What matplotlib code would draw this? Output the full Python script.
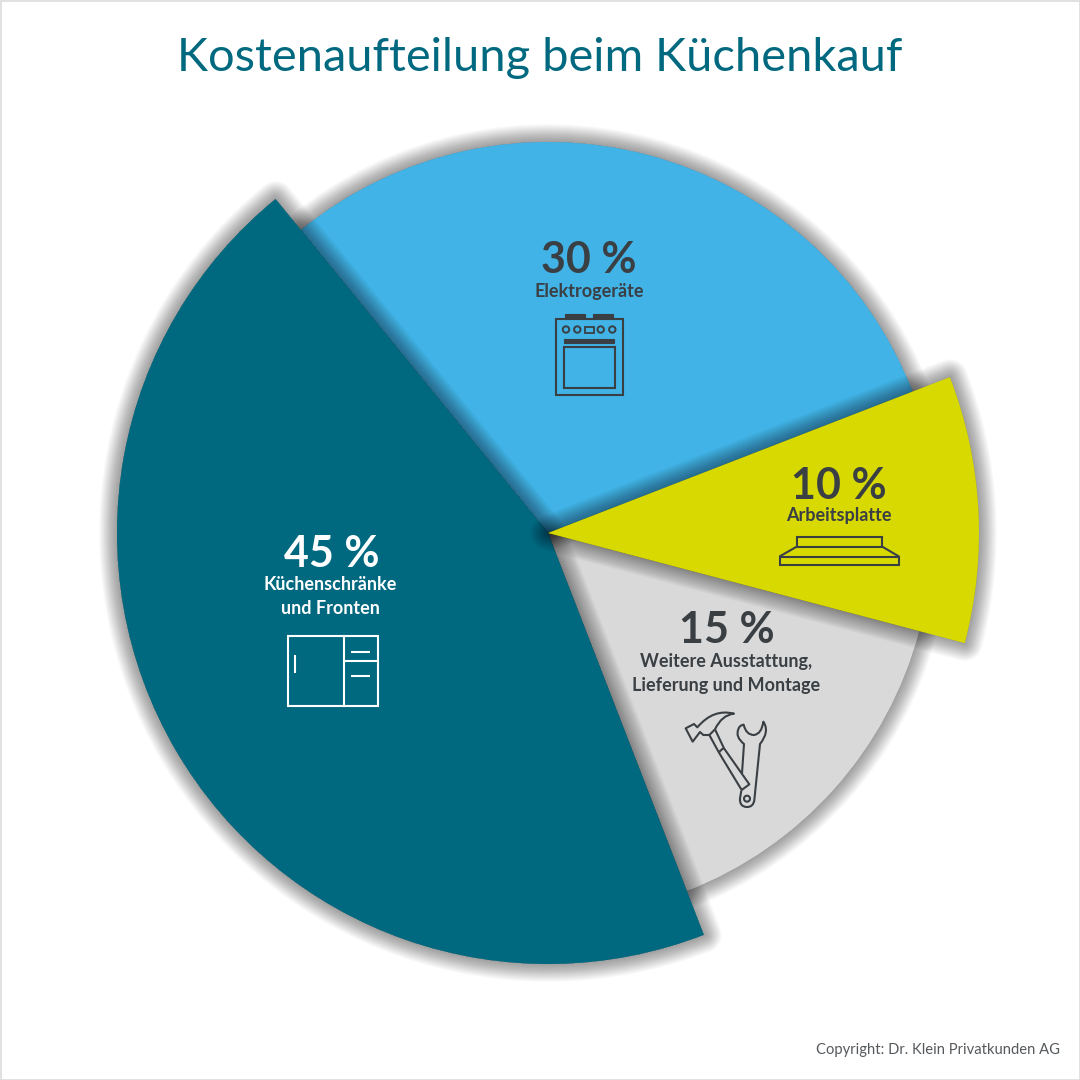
import matplotlib
matplotlib.use("Agg")
import matplotlib.pyplot as plt
import matplotlib.patheffects as pe
from matplotlib.patches import Rectangle, Circle, PathPatch
from matplotlib.path import Path

# ---- data ----
categories = ["Küchenschränke\nund Fronten", "Weitere Ausstattung,\nLieferung und Montage", "Arbeitsplatte", "Elektrogeräte"]
shares = [45, 15, 10, 30]
share_labels = ["45 %", "15 %", "10 %", "30 %"]

# ---- style ----
colors = ["#00697F", "#D9D9D9", "#D7D900", "#41B3E6"]
text_colors = ["#FFFFFF", "#3A3F44", "#3A3F44", "#3A3F44"]
radii_px = [431, 384, 431, 391]
zorders = [3, 1, 4, 1]
big_xy = [(332, 554), (727, 630), (839, 486), (589, 260)]
small_xy = [(330, 596), (726, 673), (839, 515), (589, 291)]
CX, CY = 548, 533
DARK = "#3A3F44"
FONT = ["Lato", "DejaVu Sans"]

fig = plt.figure(figsize=(10.8, 10.8), dpi=100, facecolor="white")
ax = fig.add_axes([0, 0, 1, 1])
wedges, _ = ax.pie(shares, colors=colors, startangle=129.2, center=(CX, 1080 - CY), radius=400)
ax.set_xlim(0, 1080)
ax.set_ylim(0, 1080)
ax.axis("off")


def shadow_effects(max_px=18, n=26, layer_alpha=0.017):
    fx = []
    for i in range(n, 0, -1):
        w = max_px * 2 * i / n * 0.72
        fx.append(pe.Stroke(linewidth=w, foreground="black", alpha=layer_alpha, joinstyle="round"))
    fx.append(pe.Normal())
    return fx


for w, r, z in zip(wedges, radii_px, zorders):
    w.set_radius(r)
    w.set_zorder(z)
    w.set_linewidth(0)
    w.set_edgecolor(w.get_facecolor())
    w.set_path_effects(shadow_effects())

# frame
ax.add_patch(Rectangle((0.5, 0.5), 1079, 1079, fill=False, ec="#DCDCDC", lw=1.2, zorder=0))


def P(x, y):
    return (x, 1080 - y)


# ---- texts ----
ax.text(*P(540, 58), "Kostenaufteilung beim Küchenkauf", ha="center", va="center",
        fontsize=33.8, color="#00697F", family=FONT, zorder=10)
ax.text(*P(1060, 1050), "Copyright: Dr. Klein Privatkunden AG", ha="right", va="center",
        fontsize=10.6, color="#55595C", family=FONT, zorder=10)
for lab, big, bxy, sxy, tc in zip(categories, share_labels, big_xy, small_xy, text_colors):
    ax.text(*P(*bxy), big, ha="center", va="center", fontsize=31, fontweight="bold",
            color=tc, family=FONT, zorder=10)
    ax.text(*P(*sxy), lab, ha="center", va="center", fontsize=13, fontweight="bold",
            color=tc, family=FONT, linespacing=1.5, zorder=10)


# ---- icons ----
def rect(x0, y0, x1, y1, color, lw=1.5, fill=False):
    ax.add_patch(Rectangle(P(x0, y1), x1 - x0, y1 - y0, fill=fill, fc=color if fill else "none",
                           ec=color, lw=lw, zorder=10))


def line(pts, color, lw=1.5):
    xs, ys = zip(*[P(*p) for p in pts])
    ax.plot(xs, ys, color=color, lw=lw, zorder=10, solid_capstyle="butt", solid_joinstyle="round")


# oven
rect(556, 318.5, 622.5, 395, DARK)
rect(564.5, 314, 585, 318, DARK, lw=0.8, fill=True)
rect(593, 314, 613, 318, DARK, lw=0.8, fill=True)
for kx in (566, 577.3, 600.7, 612.3):
    ax.add_patch(Circle(P(kx, 329.5), 3.2, fill=False, ec=DARK, lw=1.4, zorder=10))
rect(584.5, 326.5, 594, 333, DARK, lw=1.3)
rect(563.5, 339, 614, 342.5, DARK, lw=0.8, fill=True)
rect(564, 347, 614.5, 388, DARK)

# cabinet
W = "#FFFFFF"
rect(287.5, 635.5, 378, 706, W)
line([(344, 635.5), (344, 706)], W)
line([(344, 661), (378, 661)], W)
line([(294.5, 655), (294.5, 673)], W)
line([(351, 652), (369.5, 652)], W)
line([(351, 676), (369.5, 676)], W)

# countertop
rect(797, 537, 882, 546.5, DARK)
rect(779.5, 556.5, 899, 564.5, DARK)
line([(797, 546.5), (779.5, 556.5)], DARK)
line([(882, 546.5), (899, 556.5)], DARK)


# tools (coordinates measured on a 3x crop anchored at 620,600)
def Z(x, y):
    return P(620 + x / 3, 600 + y / 3)


def zcurve(segs):
    verts = [Z(*segs[0])]
    codes = [Path.MOVETO]
    for s in segs[1:]:
        if len(s) == 2 and isinstance(s[0], tuple):
            verts += [Z(*s[0]), Z(*s[1])]
            codes += [Path.CURVE3, Path.CURVE3]
        else:
            verts.append(Z(*s))
            codes.append(Path.LINETO)
    ax.add_patch(PathPatch(Path(verts, codes), fill=False, ec=DARK, lw=1.5, zorder=10,
                           joinstyle="round"))


# hammer head
zcurve([(268, 405), (250, 405), (240, 396), (218, 425), (197, 385), (222, 372), (232, 382),
        ((280, 325), (342, 341)), ((305, 345), (285, 388)), (268, 405)])
# neck + grip
zcurve([(268, 405), (297, 458), (365, 570), (388, 553), (312, 445), (285, 388)])
zcurve([(297, 458), ((303, 447), (312, 445))])
# wrench
zcurve([(366, 520), (372, 432), ((345, 410), (355, 388)), ((358, 376), (371, 374)),
        ((378, 405), (402, 405)), ((425, 402), (430, 365)), ((450, 395), (420, 432)),
        (403, 600), ((400, 622), (380, 621)), ((358, 620), (360, 595)), (364, 572)])
ax.add_patch(Circle(Z(381, 596), 3, fill=False, ec=DARK, lw=1.5, zorder=10))

fig.savefig("out.png", dpi=100, facecolor="white")
